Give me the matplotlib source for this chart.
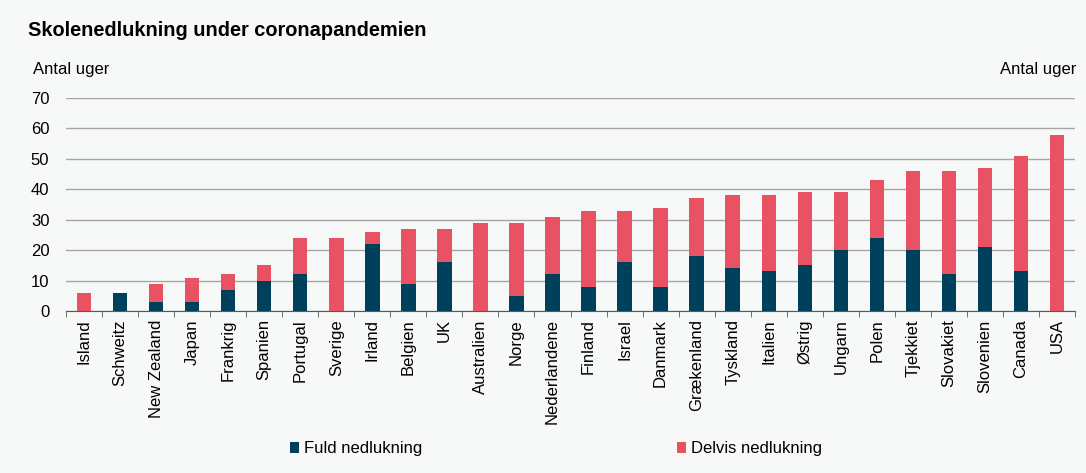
import numpy as np
import matplotlib
matplotlib.use('Agg')
import matplotlib.pyplot as plt

plt.rcParams['font.family'] = ['Liberation Sans', 'DejaVu Sans']

countries = ['Island', 'Schweitz', 'New Zealand', 'Japan', 'Frankrig', 'Spanien', 'Portugal',
             'Sverige', 'Irland', 'Belgien', 'UK', 'Australien', 'Norge', 'Nederlandene',
             'Finland', 'Israel', 'Danmark', 'Grækenland', 'Tyskland', 'Italien', 'Østrig',
             'Ungarn', 'Polen', 'Tjekkiet', 'Slovakiet', 'Slovenien', 'Canada', 'USA']
fuld = [0, 6, 3, 3, 7, 10, 12, 0, 22, 9, 16, 0, 5, 12,
        8, 16, 8, 18, 14, 13, 15, 20, 24, 20, 12, 21, 13, 0]
delvis = [6, 0, 6, 8, 5, 5, 12, 24, 4, 18, 11, 29, 24, 19,
          25, 17, 26, 19, 24, 25, 24, 19, 19, 26, 34, 26, 38, 58]

dark = '#00405a'
red = '#e85263'
bg = '#f7f9f9'

fig = plt.figure(figsize=(10.86, 4.73), dpi=100, facecolor=bg)
ax = fig.add_axes([0.0608, 0.3425, 0.9291, 0.4503])
ax.set_facecolor(bg)

x = np.arange(len(countries))
ax.bar(x, fuld, width=0.4, color=dark, label='Fuld nedlukning', zorder=3)
ax.bar(x, delvis, width=0.4, bottom=fuld, color=red, label='Delvis nedlukning', zorder=3)

ax.set_ylim(0, 70)
ax.set_xlim(-0.5, len(countries) - 0.5)
ax.set_yticks(np.arange(0, 71, 10))
ax.yaxis.grid(True, color='#a6a6a6', linewidth=1)
ax.set_axisbelow(True)
for s in ['top', 'right', 'left']:
    ax.spines[s].set_visible(False)
ax.spines['bottom'].set_color('#595959')
ax.tick_params(axis='y', length=0, labelsize=12, pad=12)
ax.set_xticks(x)
ax.set_xticklabels(countries, rotation=90, fontsize=12)
ax.tick_params(axis='x', which='major', length=0, pad=6)
ax.set_xticks(np.arange(-0.5, len(countries), 1), minor=True)
ax.tick_params(axis='x', which='minor', length=4, color='#595959')

fig.text(0.026, 0.935, 'Skolenedlukning under coronapandemien', fontsize=14.4,
         fontweight='bold', va='center')
fig.text(0.030, 0.853, 'Antal uger', fontsize=12, va='center')
fig.text(0.991, 0.853, 'Antal uger', fontsize=12, va='center', ha='right')

fig.legend(loc='center', bbox_to_anchor=(0.512, 0.051), ncol=2, frameon=False,
           fontsize=12, handlelength=0.55, handleheight=0.55, handletextpad=0.3,
           columnspacing=15.3)

fig.savefig('out.png', dpi=100, facecolor=bg)
